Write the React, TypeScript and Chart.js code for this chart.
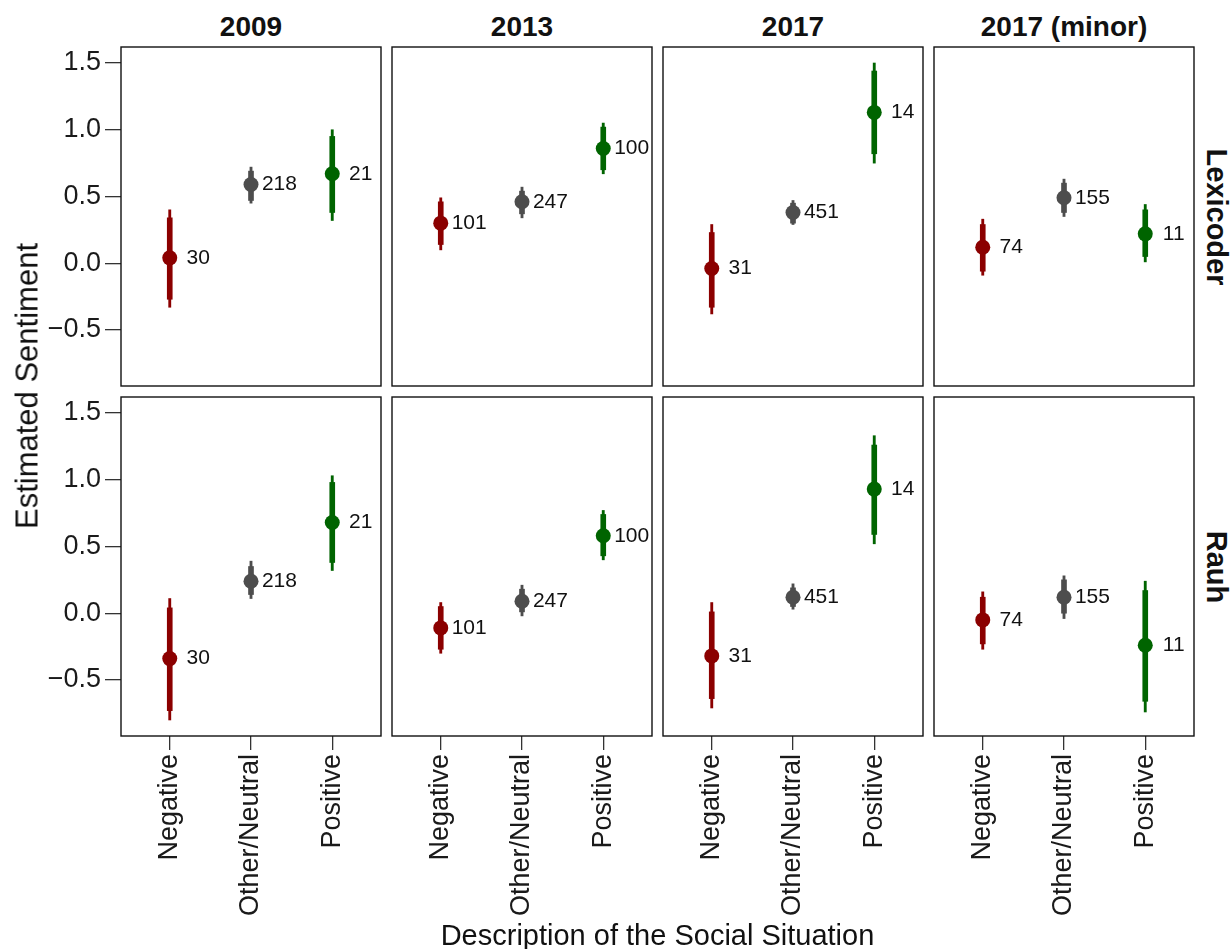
import React, { useEffect, useRef } from "react";
import { Chart, registerables } from "chart.js";

Chart.register(...registerables);

// ---------- data ----------
const categories = ["Negative", "Other/Neutral", "Positive"];
const years = ["2009", "2013", "2017", "2017 (minor)"];
const measures = ["Lexicoder", "Rauh"];
const yTickValues = [-0.5, 0, 0.5, 1.0, 1.5];
const categoryColors = ["#8B0000", "#4D4D4D", "#006400"];

// number of observations per year (Negative, Other/Neutral, Positive)
const counts = [
  [30, 218, 21],
  [101, 247, 100],
  [31, 451, 14],
  [74, 155, 11],
];

// Lexicoder (one row per year)
const lexEstimate = [
  [0.04, 0.59, 0.67],
  [0.3, 0.46, 0.86],
  [-0.04, 0.38, 1.13],
  [0.12, 0.49, 0.22],
];
const lexInnerLow = [
  [-0.27, 0.47, 0.38],
  [0.14, 0.37, 0.7],
  [-0.33, 0.3, 0.82],
  [-0.06, 0.38, 0.05],
];
const lexInnerHigh = [
  [0.34, 0.69, 0.95],
  [0.46, 0.54, 1.02],
  [0.23, 0.45, 1.44],
  [0.29, 0.6, 0.4],
];
const lexOuterLow = [
  [-0.33, 0.45, 0.32],
  [0.1, 0.34, 0.67],
  [-0.38, 0.29, 0.75],
  [-0.09, 0.35, 0.01],
];
const lexOuterHigh = [
  [0.4, 0.72, 1.0],
  [0.49, 0.57, 1.05],
  [0.29, 0.47, 1.5],
  [0.33, 0.63, 0.44],
];

// Rauh (one row per year)
const rauhEstimate = [
  [-0.34, 0.24, 0.68],
  [-0.11, 0.09, 0.58],
  [-0.32, 0.12, 0.93],
  [-0.05, 0.12, -0.24],
];
const rauhInnerLow = [
  [-0.73, 0.14, 0.38],
  [-0.27, 0.01, 0.43],
  [-0.64, 0.05, 0.59],
  [-0.23, 0.0, -0.66],
];
const rauhInnerHigh = [
  [0.04, 0.35, 0.98],
  [0.05, 0.18, 0.74],
  [0.01, 0.19, 1.26],
  [0.12, 0.25, 0.17],
];
const rauhOuterLow = [
  [-0.8, 0.11, 0.32],
  [-0.3, -0.02, 0.4],
  [-0.71, 0.03, 0.52],
  [-0.27, -0.04, -0.74],
];
const rauhOuterHigh = [
  [0.11, 0.39, 1.03],
  [0.08, 0.21, 0.77],
  [0.08, 0.22, 1.33],
  [0.16, 0.28, 0.24],
];

// ---------- layout ----------
const FONT = "'Liberation Sans', Arial, Helvetica, sans-serif";
const PAGE_W = 1230;
const PAGE_H = 949;
const COL_LEFT = [121, 392, 663, 934];
const ROW_TOP = [47, 397];
const PANEL_W = 260;
const PANEL_H = 339;
const M = 3;
const Y_MIN = -0.92;
const Y_MAX = 1.62;
const LABEL_NUDGE = 0.35;

function fmtTick(v: number) {
  const s = Math.abs(v).toFixed(1);
  return v < 0 ? "\u2212" + s : s;
}

function Panel({ r, c }: { r: number; c: number }) {
  const ref = useRef<HTMLCanvasElement | null>(null);
  const x0 = c === 0 ? 0 : COL_LEFT[c] - M;
  const y0 = ROW_TOP[r] - M;
  const x1 = COL_LEFT[c] + PANEL_W + M;
  const y1 = r === 1 ? PAGE_H : ROW_TOP[r] + PANEL_H + M;
  const w = x1 - x0;
  const h = y1 - y0;

  useEffect(() => {
    const est = (r === 0 ? lexEstimate : rauhEstimate)[c];
    const iLo = (r === 0 ? lexInnerLow : rauhInnerLow)[c];
    const iHi = (r === 0 ? lexInnerHigh : rauhInnerHigh)[c];
    const oLo = (r === 0 ? lexOuterLow : rauhOuterLow)[c];
    const oHi = (r === 0 ? lexOuterHigh : rauhOuterHigh)[c];
    const n = counts[c];

    const decor = {
      id: "decor" + r + c,
      afterDatasetsDraw(chart: any) {
        const { ctx, chartArea, scales } = chart;
        ctx.save();
        ctx.font = `21px ${FONT}`;
        ctx.fillStyle = "#111";
        ctx.textAlign = "center";
        ctx.textBaseline = "middle";
        n.forEach((v, i) => {
          ctx.fillText(
            String(v),
            scales.x.getPixelForValue(i + 1 + LABEL_NUDGE),
            scales.y.getPixelForValue(est[i])
          );
        });
        ctx.strokeStyle = "#111";
        ctx.lineWidth = 1.4;
        ctx.strokeRect(
          chartArea.left,
          chartArea.top,
          chartArea.right - chartArea.left,
          chartArea.bottom - chartArea.top
        );
        ctx.restore();
      },
    };

    const chart = new Chart(ref.current as HTMLCanvasElement, {
      type: "bar",
      data: {
        datasets: [
          {
            type: "scatter",
            order: 0,
            data: categories.map((_, i) => ({ x: i + 1, y: est[i] })),
            backgroundColor: categoryColors,
            borderWidth: 0,
            pointRadius: 7.5,
            pointHoverRadius: 7.5,
          } as any,
          {
            type: "bar",
            order: 1,
            data: categories.map((_, i) => ({ x: i + 1, y: [iLo[i], iHi[i]] })),
            backgroundColor: categoryColors,
            borderWidth: 0,
            barThickness: 5,
            grouped: false,
          } as any,
          {
            type: "bar",
            order: 2,
            data: categories.map((_, i) => ({ x: i + 1, y: [oLo[i], oHi[i]] })),
            backgroundColor: categoryColors,
            borderWidth: 0,
            barThickness: 2.2,
            grouped: false,
          } as any,
        ],
      },
      options: {
        animation: false,
        responsive: false,
        events: [],
        layout: {
          autoPadding: false,
          padding: {
            left: c === 0 ? 0 : M,
            right: M,
            top: M,
            bottom: r === 1 ? 0 : M,
          },
        },
        plugins: {
          legend: { display: false },
          tooltip: { enabled: false },
          title: { display: false },
        },
        scales: {
          x: {
            type: "linear",
            min: 0.4,
            max: 3.6,
            offset: false,
            display: r === 1,
            afterBuildTicks: (s: any) => {
              s.ticks = [1, 2, 3].map((v) => ({ value: v }));
            },
            afterFit:
              r === 1
                ? (s: any) => {
                    s.height = PAGE_H - (ROW_TOP[1] + PANEL_H);
                    s.paddingLeft = 0;
                    s.paddingRight = 0;
                    s.paddingTop = 0;
                    s.paddingBottom = 0;
                  }
                : undefined,
            grid: {
              drawOnChartArea: false,
              drawTicks: true,
              tickLength: 14,
              color: "#333",
              lineWidth: 1.3,
              offset: false,
            },
            border: { display: false },
            ticks: {
              autoSkip: false,
              minRotation: 90,
              maxRotation: 90,
              padding: 4,
              color: "#1a1a1a",
              font: { size: 27, family: FONT },
              callback: (v: any) => categories[Math.round(Number(v)) - 1] ?? "",
            },
          } as any,
          y: {
            type: "linear",
            min: Y_MIN,
            max: Y_MAX,
            display: c === 0,
            afterBuildTicks: (s: any) => {
              s.ticks = yTickValues.map((v) => ({ value: v }));
            },
            afterFit:
              c === 0
                ? (s: any) => {
                    s.width = COL_LEFT[0];
                    s.paddingLeft = 0;
                    s.paddingRight = 0;
                    s.paddingTop = 0;
                    s.paddingBottom = 0;
                  }
                : undefined,
            grid: {
              drawOnChartArea: false,
              drawTicks: true,
              tickLength: 16,
              color: "#333",
              lineWidth: 1.3,
            },
            border: { display: false },
            ticks: {
              padding: 4,
              color: "#1a1a1a",
              font: { size: 27, family: FONT },
              callback: (v: any) => fmtTick(Number(v)),
            },
          } as any,
        },
      },
      plugins: [decor as any],
    });
    return () => chart.destroy();
  }, [r, c]);

  return (
    <canvas
      ref={ref}
      width={w}
      height={h}
      style={{ position: "absolute", left: x0, top: y0, width: w, height: h }}
    />
  );
}

const textBase: React.CSSProperties = {
  position: "absolute",
  whiteSpace: "nowrap",
  lineHeight: 1,
  fontFamily: FONT,
  color: "#111",
};

export default function App() {
  const panelsCenterX = (COL_LEFT[0] + COL_LEFT[3] + PANEL_W) / 2;
  return (
    <div
      style={{
        position: "absolute",
        left: 0,
        top: 0,
        width: PAGE_W,
        height: PAGE_H,
        background: "#fff",
        overflow: "hidden",
      }}
    >
      {[0, 1].map((r) =>
        [0, 1, 2, 3].map((c) => <Panel key={`${r}-${c}`} r={r} c={c} />)
      )}
      {years.map((y, c) => (
        <div
          key={y}
          style={{
            ...textBase,
            left: COL_LEFT[c] + PANEL_W / 2,
            top: 27,
            transform: "translate(-50%, -50%)",
            fontWeight: "bold",
            fontSize: 28,
          }}
        >
          {y}
        </div>
      ))}
      {measures.map((m, r) => (
        <div
          key={m}
          style={{
            ...textBase,
            left: 1216,
            top: ROW_TOP[r] + PANEL_H / 2,
            transform: "translate(-50%, -50%) rotate(90deg)",
            fontWeight: "bold",
            fontSize: 29,
          }}
        >
          {m}
        </div>
      ))}
      <div
        style={{
          ...textBase,
          left: 27,
          top: 386,
          transform: "translate(-50%, -50%) rotate(-90deg)",
          fontSize: 31,
        }}
      >
        Estimated Sentiment
      </div>
      <div
        style={{
          ...textBase,
          left: panelsCenterX,
          top: 935,
          transform: "translate(-50%, -50%)",
          fontSize: 29,
        }}
      >
        Description of the Social Situation
      </div>
    </div>
  );
}
